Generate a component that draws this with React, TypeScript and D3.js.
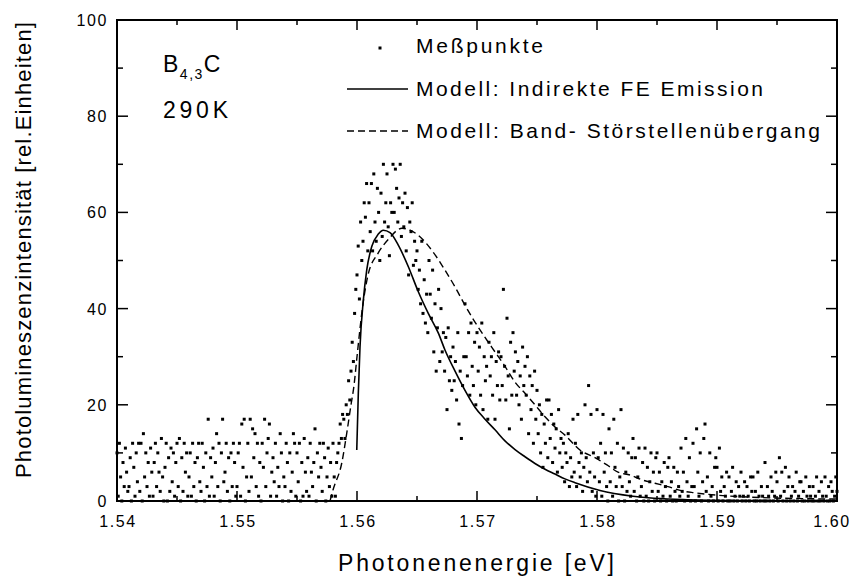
import React from "react";
import * as d3 from "d3";

// ---------- data ----------
const xTickValues = [1.54, 1.55, 1.56, 1.57, 1.58, 1.59, 1.6];
const yTickValues = [0, 20, 40, 60, 80, 100];

// measured spectrum: start energy, step, and intensities (rel. units)
const startEnergy = 1.54;
const energyStep = 0.0001;
const intensity: number[] = [
  // 1.540 - 1.558 background
  10,1,12,5,0,8,3,11,6,2,
  3,9,0,12,7,1,10,4,12,2,
  12,0,14,5,10,3,8,1,11,6,
  1,8,12,3,10,6,2,13,5,0,
  7,12,0,9,2,11,4,10,1,8,
  12,3,13,0,9,2,12,6,10,1,
  5,10,1,12,3,8,0,9,12,4,
  2,12,7,0,10,3,17,1,9,5,
  11,1,8,14,3,12,0,10,17,4,
  6,12,2,9,0,10,3,12,8,1,
  3,10,12,1,16,7,17,0,5,12,
  2,17,5,15,9,14,3,12,1,8,
  0,12,7,17,3,10,13,16,1,6,
  9,4,12,1,7,3,14,10,0,5,
  3,12,8,0,10,2,6,14,12,1,
  10,4,12,0,8,1,13,6,2,9,
  1,12,6,3,8,15,0,10,5,12,
  7,2,12,9,0,5,11,3,8,1,
  // 1.558 - 1.560 rising edge
  12,5,1,8,10,12,16,13,18,17,
  13,20,18,25,21,27,33,29,39,44,
  // 1.560 - 1.565 peak
  47,53,42,58,50,54,62,59,66,52,
  62,56,66,52,68,58,54,65,60,50,
  64,55,70,58,62,68,57,51,62,60,
  70,60,69,65,58,63,70,55,62,57,
  64,52,61,47,58,56,62,49,54,50,
  // 1.565 - 1.575 decay
  52,44,48,41,54,39,46,37,43,35,
  50,43,38,48,31,41,27,36,44,29,
  40,31,35,27,34,19,36,25,30,23,
  32,25,29,21,35,16,27,13,24,30,
  41,30,26,35,22,37,28,24,33,20,
  35,27,32,22,37,19,30,25,28,17,
  33,26,30,22,35,17,29,24,31,21,
  30,24,44,28,21,38,26,15,33,22,
  35,27,31,22,29,20,26,17,32,24,
  28,22,30,14,26,19,24,12,27,17,
  // 1.575 - 1.590 tail
  23,14,20,10,18,7,16,12,21,9,
  21,13,18,8,16,11,15,6,19,10,
  13,7,12,4,10,8,14,3,9,5,
  17,6,12,3,18,8,5,10,2,7,
  20,9,4,24,6,18,2,10,5,1,
  19,9,4,12,1,18,6,10,3,0,
  15,4,10,1,17,7,3,12,0,5,
  19,3,11,0,6,2,10,4,1,9,
  13,2,9,0,5,11,1,3,8,0,
  11,1,7,0,4,10,2,6,0,9,
  10,2,6,0,4,1,8,3,0,7,
  9,1,4,0,7,2,0,6,3,1,
  11,2,6,0,13,4,1,9,0,3,
  12,3,0,15,6,1,10,0,4,13,
  16,2,5,0,10,1,3,0,7,9,
  // 1.590 - 1.600
  7,0,11,2,5,0,3,1,6,0,
  5,0,2,7,0,1,4,0,3,1,
  6,0,1,4,0,3,1,0,5,2,
  5,0,2,0,6,1,0,3,1,0,
  8,0,3,1,0,5,2,0,1,6,
  4,0,9,1,6,0,2,7,0,3,
  5,0,1,3,0,2,6,0,1,4,
  4,0,2,0,5,1,0,3,1,0,
  3,0,1,5,0,2,0,4,1,0,
  5,1,0,3,0,4,2,0,1,5,
  2,
];

// model: indirect free-exciton emission (solid)
const feEnergy = [1.55998, 1.56011, 1.56025, 1.56053, 1.56081, 1.56123, 1.56178, 1.56219, 1.56275, 1.56344, 1.56428, 1.56511, 1.56594, 1.56678, 1.56733, 1.56817, 1.569, 1.56983, 1.57067, 1.5715, 1.57233, 1.57317, 1.574, 1.57483, 1.57567, 1.5765, 1.57733, 1.57817, 1.58025, 1.583, 1.58717, 1.59192, 1.6];
const feValue = [10.6, 22.4, 32, 41.8, 48, 52.9, 55.5, 56.3, 55.8, 53.2, 48.7, 43.5, 39, 34.9, 31.4, 27, 23, 19.5, 17, 14.8, 12.5, 10.7, 9.2, 7.8, 6.6, 5.6, 4.6, 3.8, 2.2, 1.0, 0.3, 0.1, 0];

// model: band - impurity transition (dashed)
const biEnergy = [1.55775, 1.558, 1.55873, 1.55914, 1.5595, 1.55975, 1.56, 1.5605, 1.56092, 1.56175, 1.56258, 1.56375, 1.56508, 1.56633, 1.56733, 1.56817, 1.569, 1.56983, 1.57067, 1.5715, 1.57233, 1.57317, 1.574, 1.57483, 1.57567, 1.5765, 1.57733, 1.57858, 1.57983, 1.58083, 1.58175, 1.58275, 1.58375, 1.58483, 1.58592, 1.58708, 1.58817, 1.59275, 1.6];
const biValue = [0, 2.3, 7.9, 14, 20, 24, 30, 41, 47, 51.5, 54.3, 56.7, 55.3, 51.8, 48, 44.5, 40.7, 37.2, 34, 31, 28, 24.7, 22.4, 20, 17.5, 15.4, 13.7, 10.6, 9, 7.5, 6, 5.4, 4.4, 3.7, 3, 2.1, 1.7, 0.8, 0.4];

const legendLabels = ["Meßpunkte", "Modell: Indirekte FE Emission", "Modell: Band- Störstellenübergang"];

// ---------- layout ----------
const W = 855, H = 583;
const L = 117, R = 837, T = 20, B = 501;
const FONT = "'Liberation Sans', Arial, Helvetica, sans-serif";

export default function App() {
  const x = d3.scaleLinear().domain([1.54, 1.6]).range([L, R]);
  const y = d3.scaleLinear().domain([0, 100]).range([B, T]);

  const points = intensity.map((v, i) => [startEnergy + i * energyStep, v] as [number, number]);
  const line = d3.line<[number, number]>().x(d => x(d[0])).y(d => y(d[1])).curve(d3.curveMonotoneX);
  const fePath = line(feEnergy.map((e, i) => [e, feValue[i]] as [number, number])) || "";
  const biPath = line(biEnergy.map((e, i) => [e, biValue[i]] as [number, number])) || "";

  const xMinor = x.ticks(12);
  const yMinor = y.ticks(10);
  const fmtX = d3.format(".2f");

  return (
    <svg width={W} height={H} style={{ position: "absolute", left: 0, top: 0, background: "#fff" }} fontFamily={FONT}>
      <rect x={0} y={0} width={W} height={H} fill="#fff" />
      {/* scatter */}
      <g fill="#000">
        {points.map((p, i) => (
          <rect key={i} x={x(p[0]) - 1.5} y={y(p[1]) - 1.5} width={3} height={3} />
        ))}
      </g>
      {/* models */}
      <path d={fePath} fill="none" stroke="#000" strokeWidth={1.6} />
      <path d={biPath} fill="none" stroke="#000" strokeWidth={1.4} strokeDasharray="7,4" />

      {/* frame */}
      <rect x={L} y={T} width={R - L} height={B - T} fill="none" stroke="#000" strokeWidth={2} />
      {/* ticks */}
      <g stroke="#000" strokeWidth={1.5}>
        {xMinor.map((t, i) => {
          const major = xTickValues.some(v => Math.abs(v - t) < 1e-9);
          const len = major ? 10 : 5;
          return (
            <g key={"xt" + i}>
              <line x1={x(t)} x2={x(t)} y1={B} y2={B - len} />
              <line x1={x(t)} x2={x(t)} y1={T} y2={T + len} />
            </g>
          );
        })}
        {yMinor.map((t, i) => {
          const major = yTickValues.includes(t);
          const len = major ? 11 : 6;
          return (
            <g key={"yt" + i}>
              <line x1={L} x2={L + len} y1={y(t)} y2={y(t)} />
              <line x1={R} x2={R - len} y1={y(t)} y2={y(t)} />
            </g>
          );
        })}
      </g>
      {/* tick labels */}
      <g fontSize={16} fill="#000" letterSpacing={1.6}>
        {xTickValues.map((t, i) => (
          <text key={"xl" + i} x={Math.min(x(t) + 1, 832)} y={527} textAnchor="middle">{fmtX(t)}</text>
        ))}
        {yTickValues.map((t, i) => (
          <text key={"yl" + i} x={108} y={y(t) + 6} textAnchor="end">{String(t)}</text>
        ))}
      </g>
      {/* axis titles */}
      <text x={476} y={571} fontSize={23} textAnchor="middle" textLength={276} lengthAdjust="spacing">Photonenenergie [eV]</text>
      <text transform={`translate(31,250) rotate(-90)`} fontSize={22} textAnchor="middle" textLength={456} lengthAdjust="spacing">Photolumineszenzintensität [rel.Einheiten]</text>

      {/* annotation */}
      <text x={163} y={72} fontSize={23} letterSpacing={1.5}>B<tspan fontSize={14} dy={7}>4,3</tspan><tspan dy={-7}>C</tspan></text>
      <text x={163} y={118} fontSize={23} textLength={65} lengthAdjust="spacing">290K</text>

      {/* legend */}
      <rect x={378.5} y={46.5} width={3} height={3} fill="#000" />
      <text x={416} y={53} fontSize={21} textLength={127} lengthAdjust="spacing">{legendLabels[0]}</text>
      <line x1={347} x2={408} y1={89} y2={89} stroke="#000" strokeWidth={1.4} />
      <text x={416} y={96} fontSize={21} textLength={347} lengthAdjust="spacing">{legendLabels[1]}</text>
      <line x1={347} x2={408} y1={131} y2={131} stroke="#000" strokeWidth={1.3} strokeDasharray="7,4" />
      <text x={416} y={138} fontSize={21} textLength={404} lengthAdjust="spacing">{legendLabels[2]}</text>
    </svg>
  );
}
